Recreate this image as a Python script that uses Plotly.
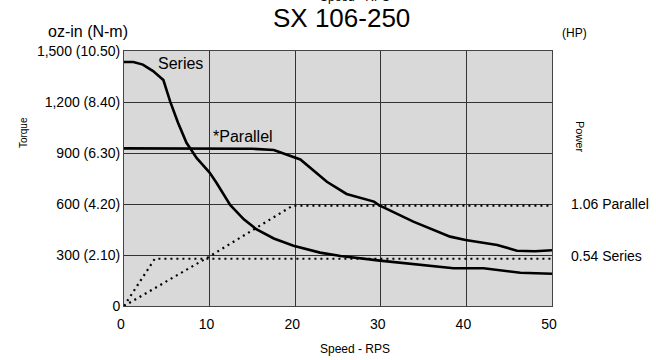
import plotly.graph_objects as go

# Speed axis (RPS) and torque curves (oz-in)
series_speed = [0, 1.1, 2.2, 3.4, 4.6, 5.4, 6.3, 7.3, 8.5, 10.0, 10.8, 12.4, 14.0, 15.5, 17.5, 19.8, 22.9, 25.3, 29.9, 34.0, 38.5, 42.0, 46.3, 50.0]
series_torque = [1435, 1435, 1420, 1382, 1329, 1202, 1080, 960, 870, 785, 725, 594, 510, 450, 397, 355, 314, 294, 267, 245, 222, 222, 196, 190]

parallel_speed = [0, 6, 12, 15, 17.5, 20.6, 23.7, 26.0, 29.2, 29.9, 33.8, 38.1, 39.9, 43.6, 45.9, 48.0, 50.0]
parallel_torque = [927, 927, 927, 925, 918, 862, 731, 659, 614, 590, 496, 408, 388, 359, 325, 322, 328]

# Power curves (drawn on the torque scale)
series_power_speed = [0, 3.6, 50]
series_power = [0, 278, 278]
parallel_power_speed = [0, 10, 19.7, 50]
parallel_power = [0, 292, 590, 590]

y_ticks = [0, 300, 600, 900, 1200, 1500]
y_tick_labels = ["0", "300 (2.10)", "600 (4.20)", "900 (6.30)", "1,200 (8.40)", "1,500 (10.50)"]
x_ticks = [0, 10, 20, 30, 40, 50]

FONT = "Liberation Sans, Arial, sans-serif"


def txt(size):
    return dict(size=size, color="black", family=FONT)


fig = go.Figure()
fig.add_trace(go.Scatter(x=series_power_speed, y=series_power, mode="lines",
                         line=dict(color="black", width=2.2, dash="2px,4px"), hoverinfo="skip"))
fig.add_trace(go.Scatter(x=parallel_power_speed, y=parallel_power, mode="lines",
                         line=dict(color="black", width=2.2, dash="2px,4px"), hoverinfo="skip"))
fig.add_trace(go.Scatter(x=series_speed, y=series_torque, mode="lines",
                         line=dict(color="black", width=2.6), hoverinfo="skip"))
fig.add_trace(go.Scatter(x=parallel_speed, y=parallel_torque, mode="lines",
                         line=dict(color="black", width=2.6), hoverinfo="skip"))

annotations = [
    # title and the axis caption printed above it
    dict(text="SX 106-250", x=0.5, y=1.0, xref="paper", yref="paper", yanchor="middle",
         xshift=3, yshift=33, showarrow=False, font=txt(26)),
    dict(text="Speed - RPS", x=0.5, y=1.0, xref="paper", yref="paper", yanchor="middle",
         xshift=17, yshift=54, showarrow=False, font=txt(12)),
    # unit captions
    dict(text="oz-in (N-m)", x=0.0, y=1.0, xref="paper", yref="paper", xanchor="center",
         yanchor="middle", xshift=-36, yshift=20, showarrow=False, font=txt(16)),
    dict(text="(HP)", x=1.0, y=1.0, xref="paper", yref="paper", xanchor="center", yanchor="middle",
         xshift=22, yshift=18, showarrow=False, font=txt(12)),
    # axis titles
    dict(text="Torque", x=0.0, y=0.678, xref="paper", yref="paper", xanchor="center", yanchor="middle",
         xshift=-101, textangle=-90, showarrow=False, font=txt(10)),
    dict(text="Power", x=1.0, y=0.663, xref="paper", yref="paper", xanchor="center", yanchor="middle",
         xshift=28, textangle=90, showarrow=False, font=txt(11)),
    dict(text="Speed - RPS", x=0.5, y=0.0, xref="paper", yref="paper", yanchor="middle",
         xshift=17, yshift=-43, showarrow=False, font=txt(12)),
    # curve labels
    dict(text="Series", x=6.55, y=1424, xref="x", yref="y", showarrow=False, font=txt(16)),
    dict(text="*Parallel", x=13.9, y=1000, xref="x", yref="y", showarrow=False, font=txt(16)),
    dict(text="1.06 Parallel", x=1.0, y=parallel_power[-1], xref="paper", yref="y", xanchor="left",
         xshift=17, yshift=2, showarrow=False, font=txt(14)),
    dict(text="0.54 Series", x=1.0, y=series_power[-1], xref="paper", yref="y", xanchor="left",
         xshift=17, yshift=3, showarrow=False, font=txt(14)),
]

fig.update_layout(
    width=656, height=360,
    margin=dict(l=124, r=104, t=51, b=54),
    paper_bgcolor="white", plot_bgcolor="#d9d9d9",
    showlegend=False,
    font=dict(family=FONT, color="black"),
    annotations=annotations,
)
fig.update_xaxes(range=[0, 50], tickvals=x_ticks, ticks="", showgrid=True, gridcolor="#333333",
                 gridwidth=1, zeroline=False, showline=True, linecolor="#444444", linewidth=1,
                 mirror=True, tickfont=txt(14), ticklabelstandoff=5, ticklabelshift=-3)
fig.update_yaxes(range=[0, 1500], tickvals=y_ticks, ticktext=y_tick_labels, ticks="", showgrid=True,
                 gridcolor="#333333", gridwidth=1, zeroline=False, showline=True, linecolor="#444444",
                 linewidth=1, mirror=True, tickfont=txt(14))

fig.write_html("out.html")
